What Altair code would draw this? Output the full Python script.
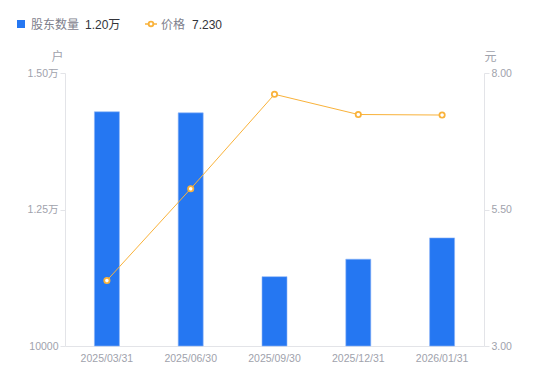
import altair as alt
import pandas as pd

dates = ["2025/03/31", "2025/06/30", "2025/09/30", "2025/12/31", "2026/01/31"]
holders = [14290, 14270, 11270, 11590, 11980]
prices = [4.20, 5.88, 7.61, 7.24, 7.23]

FONT = "Liberation Sans, Noto Sans CJK SC, sans-serif"
BLUE = "#2577F2"
ORANGE = "#F9B23A"
GRAY = "#A0A2AC"

df = pd.DataFrame({"date": dates, "holders": holders, "price": prices})

x = alt.X("date:O", sort=dates, title=None,
          scale=alt.Scale(paddingInner=0, paddingOuter=0),
          axis=alt.Axis(labelAngle=0, labelColor=GRAY, labelFontSize=10.5, labelFont=FONT,
                        ticks=False, domainColor="#E3E4E8", labelPadding=7))

bars = alt.Chart(df).mark_bar(size=25, color=BLUE, stroke="#8DB6F7", strokeWidth=0.6).encode(
    x=x,
    y=alt.Y("holders:Q", scale=alt.Scale(domain=[10000, 15000], zero=False, nice=False),
            axis=alt.Axis(values=[10000, 12500, 15000], grid=False,
                          labelExpr="datum.value > 10000 ? format(datum.value/10000, '.2f') + '万' : format(datum.value, 'd')",
                          labelColor=GRAY, labelFontSize=10.5, labelFont=FONT,
                          tickColor="#E3E4E8", tickSize=5, domainColor="#E3E4E8",
                          title="户", titleAngle=0, titleColor=GRAY, titleFont=FONT,
                          titleFontSize=12, titleFontWeight="normal",
                          titleX=-2, titleY=-10, titleAlign="right", titleBaseline="bottom")),
    y2=alt.datum(10000),
)

line = alt.Chart(df).mark_line(color=ORANGE, strokeWidth=1,
                               point=alt.OverlayMarkDef(filled=False, fill="white", color=ORANGE,
                                                        size=28, strokeWidth=1.8)).encode(
    x=x,
    y=alt.Y("price:Q", scale=alt.Scale(domain=[3, 8], zero=False, nice=False),
            axis=alt.Axis(orient="right", values=[3, 5.5, 8], format=".2f", grid=False,
                          labelColor=GRAY, labelFontSize=10.5, labelFont=FONT,
                          tickColor="#E3E4E8", tickSize=5, domainColor="#E3E4E8",
                          title="元", titleAngle=0, titleColor=GRAY, titleFont=FONT,
                          titleFontSize=12, titleFontWeight="normal",
                          titleX=0, titleY=-10, titleAlign="left", titleBaseline="bottom")),
)

# legend built from the data
leg_df = pd.DataFrame({
    "name": ["股东数量", "价格"],
    "val": [f"{holders[-1] / 10000:.2f}万", f"{prices[-1]:.3f}"],
})
leg_sq = alt.Chart(leg_df.iloc[[0]]).mark_square(color=BLUE, size=64, opacity=1, filled=True,
                                                 cornerRadius=1.5).encode(
    x=alt.value(-44), y=alt.value(-49))
leg_ln = alt.Chart(leg_df.iloc[[1]]).mark_rule(color=ORANGE, strokeWidth=1.5).encode(
    x=alt.value(80), x2=alt.value(92), y=alt.value(-49))
leg_pt = alt.Chart(leg_df.iloc[[1]]).mark_point(color=ORANGE, fill="white", filled=False,
                                                size=22, strokeWidth=1.8, opacity=1).encode(
    x=alt.value(86), y=alt.value(-49))
leg_n1 = alt.Chart(leg_df.iloc[[0]]).mark_text(align="left", baseline="middle", fontSize=12,
                                               font=FONT, color="#7E808C").encode(
    x=alt.value(-34), y=alt.value(-48), text="name:N")
leg_v1 = alt.Chart(leg_df.iloc[[0]]).mark_text(align="left", baseline="middle", fontSize=12,
                                               font=FONT, color="#33343A").encode(
    x=alt.value(20), y=alt.value(-48), text="val:N")
leg_n2 = alt.Chart(leg_df.iloc[[1]]).mark_text(align="left", baseline="middle", fontSize=12,
                                               font=FONT, color="#7E808C").encode(
    x=alt.value(96), y=alt.value(-48), text="name:N")
leg_v2 = alt.Chart(leg_df.iloc[[1]]).mark_text(align="left", baseline="middle", fontSize=12,
                                               font=FONT, color="#33343A").encode(
    x=alt.value(127), y=alt.value(-48), text="val:N")

chart = alt.layer(bars, line, leg_sq, leg_ln, leg_pt, leg_n1, leg_v1, leg_n2, leg_v2).resolve_scale(
    y="independent"
).properties(
    width=419, height=273,
    background="white",
    autosize=alt.AutoSizeParams(type="none"),
    padding={"left": 57, "top": 65, "right": 58, "bottom": 27},
).configure_view(strokeWidth=0, strokeOpacity=0)

chart.save("out.html", embed_options={"renderer": "svg", "actions": False})
